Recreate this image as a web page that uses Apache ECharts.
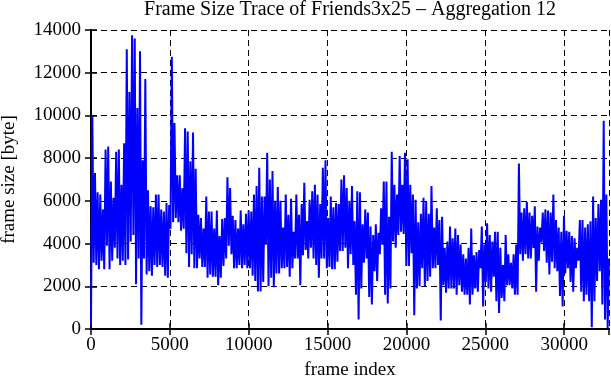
<!DOCTYPE html>
<html><head><meta charset="utf-8">
<script src="https://cdn.jsdelivr.net/npm/echarts@6/dist/echarts.min.js"></script>
<style>html,body{margin:0;padding:0;background:#fff}#c{width:611px;height:380px}</style>
</head><body><div id="c"></div>
<script>
const chartTitle = 'Frame Size Trace of Friends3x25 \u2013 Aggregation 12';
const xLabel = 'frame index';
const yLabel = 'frame size [byte]';
const frameStep = 84; // one plotted sample every 84 frames (7 aggregated samples)
const xTicks = [0, 5000, 10000, 15000, 20000, 25000, 30000];
const yTicks = [0, 2000, 4000, 6000, 8000, 10000, 12000, 14000];

// frame sizes (byte), alternating low / high readings along the trace
const sizesA = [200,10000, 3100,7300, 3000,6400, 2800,6300, 3200,5600, 2800,8400, 3900,8550, 2800,6900, 3200,6150, 3800,8300,
  3300,8400, 3000,6750, 3200,8700, 3000,13100, 3250,11100, 4100,13750, 4400,13600, 2100,10350, 3300,13000, 200,7900,
  3300,11700, 2550,6500, 2700,5750, 2500,5700, 3000,6300, 2900,6300, 3000,5600, 2900,5500, 2500,5900, 2400,5800,
  4700,12750, 5000,9650, 5200,7200];
const sizesB = [5000,7200, 4600,6600, 4700,9400, 3550,9250, 2900,7850, 3500,9200, 2850,7500, 2850,5350, 3300,5200, 2900,4700,
  2900,6200, 2400,5500, 2550,5500, 2450,4700, 2450,5550, 2050,4350, 2400,5150, 2950,5200, 3300,7100, 3900,6600,
  3500,5300, 2850,5100, 2850,4700, 3000,5550, 2850,4900, 3000,5400, 2850,5550, 2850,5500, 2500,6300, 2250,6700,
  1760,7550, 1760,6200, 2200,6200];
const sizesC = [3950,8250, 2000,7000, 2400,7400, 1950,6000, 2600,6650, 2600,6000, 2850,4750, 2850,6300, 2900,5350, 2450,6100,
  2850,4550, 3300,6300, 3300,5350, 2050,5850, 3450,6850, 3700,5050, 3300,6050, 3800,6450, 3300,6750, 3000,6300,
  2400,5850, 3300,7550, 3300,7900, 2850,5200, 2900,6200, 2800,5700, 2800,5900, 3150,5850, 3650,7000, 3650,7200,
  3800,6600, 2850,6000, 3500,6700];
const sizesD = [3000,5050, 1600,6450, 450,6400, 1900,4900, 3100,5600, 3300,5450, 1500,4800, 1150,4400, 2700,4900, 2250,4500,
  3500,5650, 3950,6900, 1600,6900, 1200,5250, 1900,8300, 4100,6750, 3800,6300, 4400,8100, 4550,6750, 4450,8250,
  2950,7950, 2950,6750, 3550,6300, 650,6050, 1900,5000, 2000,5400, 2850,6150, 2000,5950, 2250,5400, 2450,6700,
  2850,4750, 2850,5650, 3000,5100];
const sizesE = [400,5250, 2050,3800, 1700,4100, 1900,4800, 1900,4250, 1900,4700, 1600,4400, 2050,3950, 1750,3500, 1600,3300,
  1600,3800, 1150,4700, 1600,3450, 1900,3600, 1750,3700, 2850,4800, 1050,3950, 2200,4950, 1900,4400, 1750,4100,
  2450,4550, 1300,4550, 750,3800, 1450,3000, 1300,4400, 2050,3500, 2050,3100, 1900,3500, 1600,3950, 1600,7750,
  3500,5450, 3200,5650, 3500,5950];
const sizesF = [3300,5450, 3300,5300, 3800,5750, 1750,4800, 3200,4750, 4050,5450, 3650,5600, 3100,5550, 2550,5450, 3150,6300,
  2850,5100, 2700,4750, 1550,4550, 1050,5300, 2600,4600, 2850,4550, 2200,4350, 1750,4250, 2850,3800, 3200,5100,
  1750,5100, 1300,4750, 1600,4900, 1300,5050, 80,6200, 1300,5200, 2250,5850, 2700,6050, 1150,9750, 450,6300,
  50,3300];

const frameSizes = [].concat(sizesA, sizesB, sizesC, sizesD, sizesE, sizesF);
const seriesData = frameSizes.map((v, i) => [i * frameStep, v]);
const xMax = (frameSizes.length - 1) * frameStep;

const FONT = 'Liberation Serif';
const gridLine = { show: true, lineStyle: { color: '#000', type: [6, 4], width: 1 } };
const axisLine = { show: true, lineStyle: { color: '#000', width: 2 } };
const tick = { show: true, inside: true, length: 6, lineStyle: { color: '#000', width: 1.5 } };

const chart = echarts.init(document.getElementById('c'), null, { renderer: 'canvas' });
chart.setOption({
  animation: false,
  backgroundColor: '#fff',
  graphic: [{ type: 'text', x: 350, y: 0, style: { text: chartTitle, textAlign: 'center', fill: '#000', font: '20px "Liberation Serif"' } }],
  grid: { left: 91, right: 2, top: 30, bottom: 51, show: false, containLabel: false, outerBoundsMode: 'none' },
  xAxis: [{
    type: 'value', min: 0, max: xMax, interval: 5000, position: 'bottom',
    name: xLabel, nameLocation: 'middle', nameGap: 32,
    nameTextStyle: { fontFamily: FONT, fontSize: 19, color: '#000' },
    axisLine: axisLine, axisTick: tick,
    axisLabel: { fontFamily: FONT, fontSize: 19, color: '#000', margin: 7, showMaxLabel: false,
      formatter: v => xTicks.indexOf(v) >= 0 ? String(v) : '' },
    splitLine: gridLine
  }, {
    type: 'value', min: 0, max: xMax, interval: 5000, position: 'top',
    axisLine: axisLine, axisTick: tick,
    axisLabel: { show: false }, splitLine: { show: false }
  }],
  yAxis: [{
    type: 'value', min: 0, max: 14000, interval: 2000, position: 'left',
    name: yLabel, nameLocation: 'middle', nameGap: 72, nameRotate: 90,
    nameTextStyle: { fontFamily: FONT, fontSize: 19, color: '#000' },
    axisLine: axisLine, axisTick: tick,
    axisLabel: { fontFamily: FONT, fontSize: 19, color: '#000', margin: 10,
      formatter: v => yTicks.indexOf(v) >= 0 ? String(v) : '' },
    splitLine: gridLine
  }, {
    type: 'value', min: 0, max: 14000, interval: 2000, position: 'right',
    axisLine: axisLine, axisTick: tick,
    axisLabel: { show: false }, splitLine: { show: false }
  }],
  series: [{
    type: 'line', xAxisIndex: 0, yAxisIndex: 0, data: seriesData,
    showSymbol: false, sampling: 'none', clip: true,
    lineStyle: { color: '#0000ff', width: 2 }, z: 3
  }]
});
</script>
</body></html>
